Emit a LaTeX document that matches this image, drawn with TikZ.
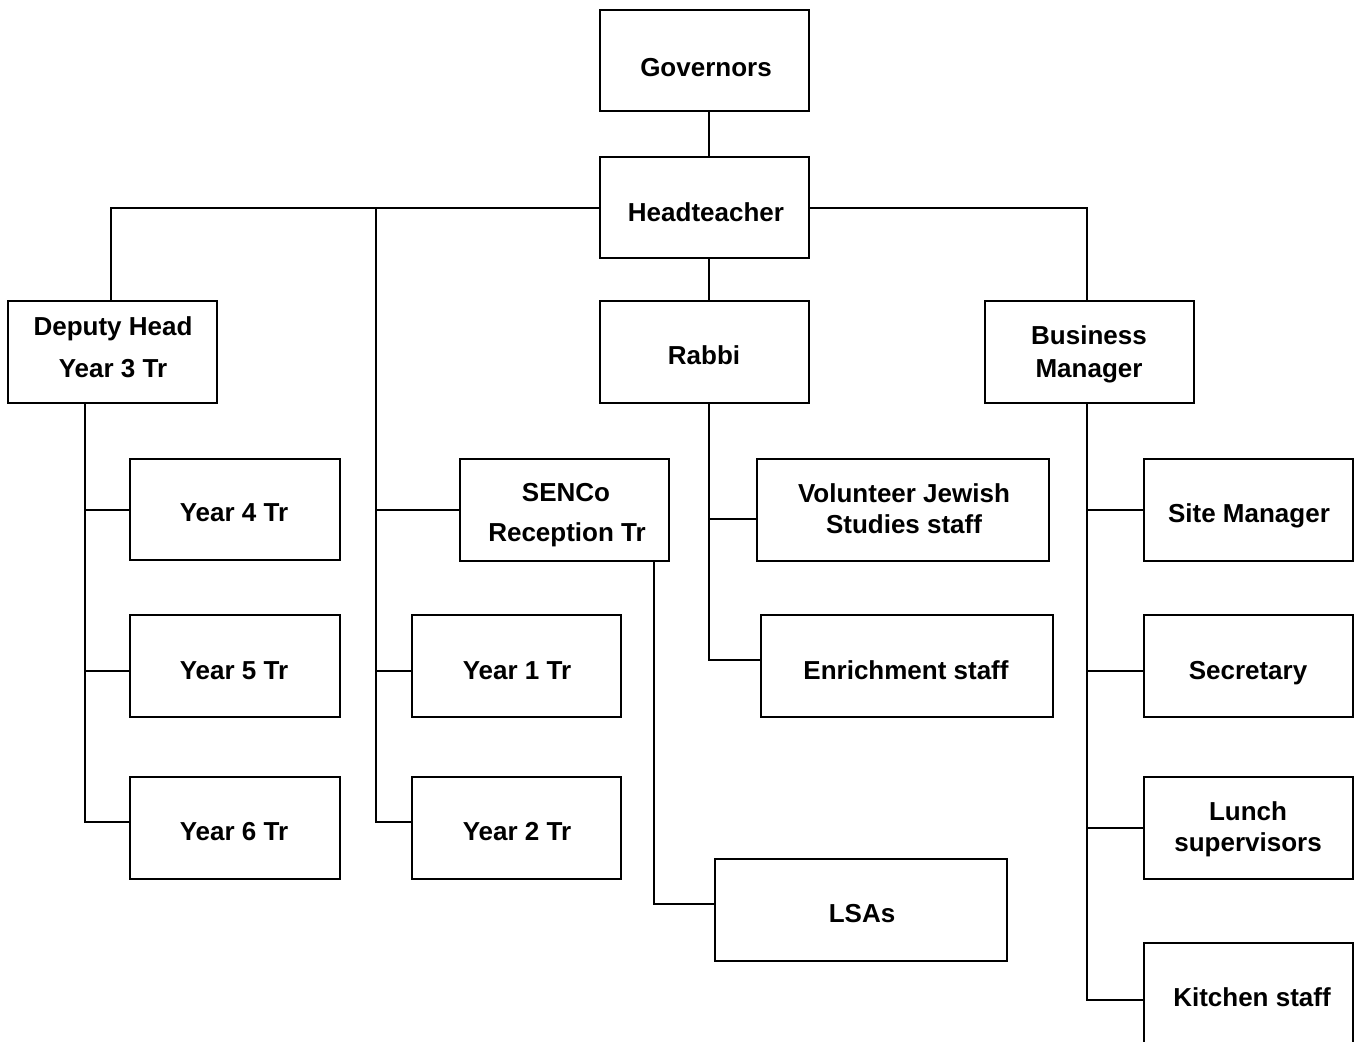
\documentclass[tikz,border=0pt]{standalone}
\usepackage{fontspec}
\setmainfont{Liberation Sans}
\usetikzlibrary{fit,calc}
\begin{document}
\begin{tikzpicture}[x=0.5pt,y=-0.5pt,
  box/.style={draw,line width=1pt,rectangle,inner sep=0pt},
  lbl/.style={font=\bfseries\fontsize{13pt}{15pt}\selectfont,anchor=base,inner sep=0pt},
  conn/.style={line width=1pt}]
\useasboundingbox (0,0) rectangle (1358,1041);
\clip (0,0) rectangle (1358,1041);
% boxes
\node[box,fit={(600,10)(809,111)}] (gov) {};
\node[box,fit={(600,157)(809,258)}] (head) {};
\node[box,fit={(8,301)(217,403)}] (dep) {};
\node[box,fit={(600,301)(809,403)}] (rab) {};
\node[box,fit={(985,301)(1194,403)}] (bus) {};
\node[box,fit={(130,459)(340,560)}] (y4) {};
\node[box,fit={(130,615)(340,717)}] (y5) {};
\node[box,fit={(130,777)(340,879)}] (y6) {};
\node[box,fit={(460,459)(669,561)}] (sen) {};
\node[box,fit={(412,615)(621,717)}] (y1) {};
\node[box,fit={(412,777)(621,879)}] (y2) {};
\node[box,fit={(715,859)(1007,961)}] (lsa) {};
\node[box,fit={(757,459)(1049,561)}] (vol) {};
\node[box,fit={(761,615)(1053,717)}] (enr) {};
\node[box,fit={(1144,459)(1353,561)}] (site) {};
\node[box,fit={(1144,615)(1353,717)}] (sec) {};
\node[box,fit={(1144,777)(1353,879)}] (lun) {};
\node[box,fit={(1144,943)(1353,1060)}] (kit) {};
% labels
\node[lbl] (tgov) at (706,76) {Governors};
\node[lbl] (thead) at (706,221) {Headteacher};
\node[lbl] (tdep1) at (113,335) {Deputy Head};
\node[lbl] (tdep2) at (113,377) {Year 3 Tr};
\node[lbl] (trab) at (704,364) {Rabbi};
\node[lbl] (tbus1) at (1089,344) {Business};
\node[lbl] (tbus2) at (1089,377) {Manager};
\node[lbl] (ty4) at (234,521) {Year 4 Tr};
\node[lbl] (ty5) at (234,679) {Year 5 Tr};
\node[lbl] (ty6) at (234,840) {Year 6 Tr};
\node[lbl] (tsen1) at (566,501) {SENCo};
\node[lbl] (tsen2) at (567,541) {Reception Tr};
\node[lbl] (ty1) at (517,679) {Year 1 Tr};
\node[lbl] (ty2) at (517,840) {Year 2 Tr};
\node[lbl] (tvol1) at (904,502) {Volunteer Jewish};
\node[lbl] (tvol2) at (904,533) {Studies staff};
\node[lbl] (tenr) at (906,679) {Enrichment staff};
\node[lbl] (tlsa) at (862,922) {LSAs};
\node[lbl] (tsite) at (1249,522) {Site Manager};
\node[lbl] (tsec) at (1248,679) {Secretary};
\node[lbl] (tlun1) at (1248,820) {Lunch};
\node[lbl] (tlun2) at (1248,851) {supervisors};
\node[lbl] (tkit) at (1252,1006) {Kitchen staff};
% spines
\coordinate (sH) at (709,0);
\coordinate (sD) at (85,0);
\coordinate (sDt) at (111,0);
\coordinate (sM) at (376,0);
\coordinate (sS) at (654,0);
\coordinate (sB) at (1087,0);
% connectors
\draw[conn] (gov.south -| sH) -- (head.north -| sH);
\draw[conn] (head.south -| sH) -- (rab.north -| sH);
\draw[conn] (head.west) -| (dep.north -| sDt);
\draw[conn] (head.east) -| (bus.north -| sB);
% deputy
\draw[conn] (dep.south -| sD) |- ([yshift=3pt]y6.west);
\draw[conn] (y4.west -| sD) -- (y4.west);
\draw[conn] ([yshift=-2.5pt]y5.west -| sD) -- ([yshift=-2.5pt]y5.west);
% middle
\draw[conn] (head.west -| sM) |- ([yshift=3pt]y2.west);
\draw[conn] (sen.west -| sM) -- (sen.west);
\draw[conn] ([yshift=-2.5pt]y1.west -| sM) -- ([yshift=-2.5pt]y1.west);
% senco
\draw[conn] (sen.south -| sS) |- ([yshift=3pt]lsa.west);
% rabbi
\draw[conn] (rab.south -| sH) |- ([yshift=3pt]enr.west);
\draw[conn] ([yshift=-4.5pt]vol.west -| sH) -- ([yshift=-4.5pt]vol.west);
% business
\draw[conn] (bus.south -| sB) |- (kit.west |- 0,1000);
\draw[conn] (site.west -| sB) -- (site.west);
\draw[conn] ([yshift=-2.5pt]sec.west -| sB) -- ([yshift=-2.5pt]sec.west);
\draw[conn] (lun.west -| sB) -- (lun.west);
\end{tikzpicture}
\end{document}
